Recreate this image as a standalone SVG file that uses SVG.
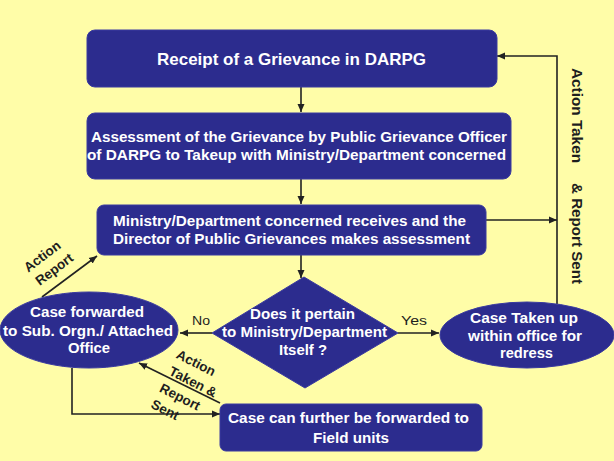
<svg xmlns="http://www.w3.org/2000/svg" width="614" height="461" viewBox="0 0 614 461">
<style>
.bg{fill:#FFFDA8}
.node{fill:#2C2C8E;stroke:#3A3AA0;stroke-width:1}
.nt{font-family:"Liberation Sans",Arial,sans-serif;font-weight:bold;fill:#FFFFFF;text-anchor:middle;font-size:14.5px}
.lbl{font-family:"Liberation Sans",Arial,sans-serif;fill:#1E1E1E;text-anchor:middle}
.b{font-weight:bold;font-size:13.5px}
.r{font-size:13px}
.v{font-size:15.5px;font-weight:bold}
.con{fill:none;stroke:#222222;stroke-width:1.6}
.arr{marker-end:url(#ah)}
</style>
<defs>
<marker id="ah" markerUnits="userSpaceOnUse" markerWidth="9" markerHeight="8" refX="8" refY="4" orient="auto">
<path d="M0,0.5 L8,4 L0,7.5 z" fill="#222222"/>
</marker>
</defs>
<rect class="bg" x="0" y="0" width="614" height="461"/>

<g id="connectors">
<path class="con arr" d="M301,87 L301,112"/>
<path class="con arr" d="M301,179 L301,204"/>
<path class="con arr" d="M301,255 L301,278"/>
<path class="con arr" d="M212,333 L180,333"/>
<path class="con arr" d="M398,333 L439,333"/>
<path class="con arr" d="M557,304 L557,56 L497,56"/>
<path class="con arr" d="M486,220 L557,220"/>
<path class="con arr" d="M72,368 L72,414 L220,414"/>
<path class="con arr" d="M42,297 L97,256"/>
<path class="con arr" d="M220,403 L139,363"/>
</g>

<g id="receipt">
<rect class="node" x="87" y="30" width="410" height="57" rx="8"/>
<text class="nt" x="291.5" y="65" style="font-size:16.5px" textLength="269" lengthAdjust="spacingAndGlyphs">Receipt of a Grievance in DARPG</text>
</g>

<g id="assessment">
<rect class="node" x="87" y="113" width="424" height="66" rx="8"/>
<text class="nt" x="299" y="142" textLength="416" lengthAdjust="spacingAndGlyphs">Assessment of the Grievance by Public Grievance Officer</text>
<text class="nt" x="296.5" y="160" textLength="419" lengthAdjust="spacingAndGlyphs">of DARPG to Takeup with Ministry/Department concerned</text>
</g>

<g id="ministry">
<rect class="node" x="97" y="205" width="389" height="50" rx="7"/>
<text class="nt" x="289.5" y="226" textLength="353" lengthAdjust="spacingAndGlyphs">Ministry/Department concerned receives and the</text>
<text class="nt" x="291.5" y="244" textLength="357" lengthAdjust="spacingAndGlyphs">Director of Public Grievances makes assessment</text>
</g>

<g id="decision">
<path class="node" d="M304,277 L398,333 L305,388 L212,333 Z"/>
<text class="nt" x="302.5" y="319" style="font-size:14px" textLength="105" lengthAdjust="spacingAndGlyphs">Does it pertain</text>
<text class="nt" x="304.5" y="337" style="font-size:14px" textLength="165" lengthAdjust="spacingAndGlyphs">to Ministry/Department</text>
<text class="nt" x="303" y="355" style="font-size:14px" textLength="48" lengthAdjust="spacingAndGlyphs">Itself ?</text>
</g>

<g id="forwarded">
<ellipse class="node" cx="89" cy="330" rx="89" ry="38"/>
<text class="nt" x="87" y="317" textLength="114" lengthAdjust="spacingAndGlyphs">Case forwarded</text>
<text class="nt" x="88" y="336" textLength="170" lengthAdjust="spacingAndGlyphs">to Sub. Orgn./ Attached</text>
<text class="nt" x="89" y="353" textLength="42" lengthAdjust="spacingAndGlyphs">Office</text>
</g>

<g id="takenup">
<ellipse class="node" cx="527" cy="335" rx="87" ry="33"/>
<text class="nt" x="524" y="323" textLength="108" lengthAdjust="spacingAndGlyphs">Case Taken up</text>
<text class="nt" x="525" y="341" textLength="114" lengthAdjust="spacingAndGlyphs">within office for</text>
<text class="nt" x="526.5" y="358" textLength="53" lengthAdjust="spacingAndGlyphs">redress</text>
</g>

<g id="field">
<rect class="node" x="220" y="404" width="262" height="47" rx="6"/>
<text class="nt" x="348.5" y="423" textLength="241" lengthAdjust="spacingAndGlyphs">Case can further be forwarded to</text>
<text class="nt" x="351" y="443" textLength="76" lengthAdjust="spacingAndGlyphs">Field units</text>
</g>

<g id="labels">
<text class="lbl r" x="201" y="325" textLength="18" lengthAdjust="spacingAndGlyphs">No</text>
<text class="lbl r" x="414" y="325" textLength="26" lengthAdjust="spacingAndGlyphs">Yes</text>
<text class="lbl v" transform="translate(572,115.5) rotate(90)" textLength="95" lengthAdjust="spacingAndGlyphs">Action Taken</text>
<text class="lbl v" transform="translate(572,233.5) rotate(90)" textLength="101" lengthAdjust="spacingAndGlyphs">&amp; Report Sent</text>
<text class="lbl b" transform="translate(45,260) rotate(-37)">Action</text>
<text class="lbl b" transform="translate(57,273) rotate(-37)">Report</text>
<text class="lbl b" transform="translate(194,367) rotate(27)">Action</text>
<text class="lbl b" transform="translate(191,386) rotate(27)">Taken &amp;</text>
<text class="lbl b" transform="translate(178,401) rotate(27)">Report</text>
<text class="lbl b" transform="translate(163,414) rotate(27)">Sent</text>
</g>
</svg>
